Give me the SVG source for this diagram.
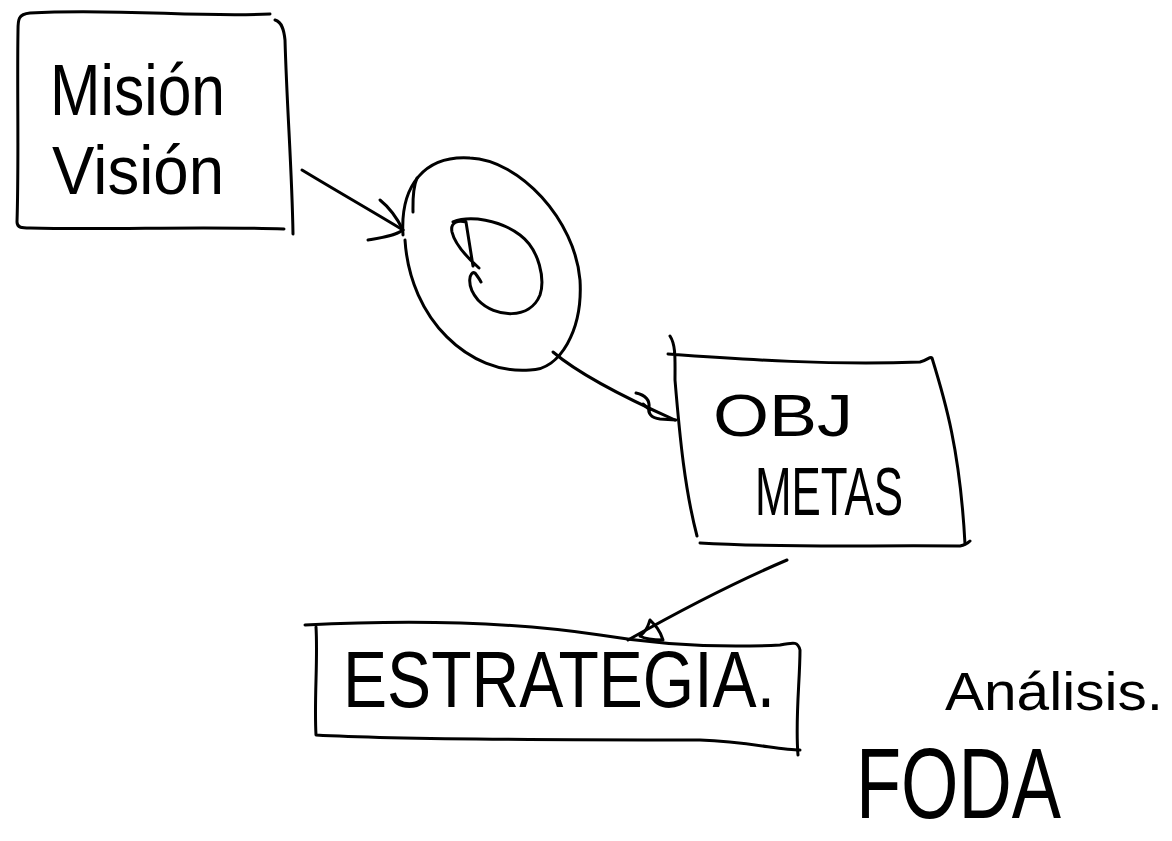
<svg xmlns="http://www.w3.org/2000/svg" width="1172" height="841" viewBox="0 0 1172 841">
<style>
.s{fill:none;stroke:#000;stroke-width:3;stroke-linecap:round;stroke-linejoin:round}
.t{font-family:"Liberation Sans","DejaVu Sans",sans-serif;fill:#000;font-weight:normal}
</style>
<rect width="1172" height="841" fill="#fff"/>
<g id="mision-vision">
<path class="s" d="M270,14 C200,18 120,8 30,13 C18,14 18,20 18,30 C17,90 19,160 17,222 C17,228 22,228 30,228 C110,230 200,226 284,229"/>
<path class="s" d="M275,20 C282,22 284,30 285,40 C287,110 292,170 293,234"/>
<text class="t" x="50" y="115" font-size="72" textLength="175" lengthAdjust="spacingAndGlyphs">Misión</text>
<text class="t" x="52" y="194" font-size="68" textLength="172" lengthAdjust="spacingAndGlyphs">Visión</text>
</g>
<g id="circulo">
<path class="s" d="M403,235 C400,185 425,155 470,158 C520,160 575,220 580,280 C583,330 560,370 530,370 C470,375 410,320 405,240"/>
<path class="s" d="M417,178 C412,190 413,205 413,212"/>
<path class="s" d="M453,222 C470,215 500,220 520,235 C540,250 545,280 540,295 C530,320 495,318 478,300 C465,285 470,270 475,273 C478,277 480,280 481,282 M479,268 C470,260 455,245 452,232 C450,222 458,220 466,222 L473,266"/>
</g>
<g id="obj-metas">
<path class="s" d="M668,354 C750,360 830,365 920,362 C928,360 930,356 932,358 C945,400 960,450 965,544 M670,336 C676,345 675,360 675,380 C680,440 685,490 697,536"/>
<path class="s" d="M700,543 C780,548 870,545 960,546 C966,545 968,543 970,541"/>
<text class="t" x="713" y="436" font-size="60" textLength="140" lengthAdjust="spacingAndGlyphs">OBJ</text>
<text class="t" x="755" y="515" font-size="68" textLength="148" lengthAdjust="spacingAndGlyphs">METAS</text>
</g>
<g id="estrategia">
<path class="s" d="M305,625 C400,620 500,620 600,635 C660,645 720,648 780,645 C795,642 798,642 800,650 C800,680 795,720 798,755"/>
<path class="s" d="M316,627 C318,660 314,700 316,735 C400,740 600,740 700,740 C750,742 780,750 800,750"/>
<text class="t" x="343" y="707" font-size="80" textLength="432" lengthAdjust="spacingAndGlyphs">ESTRATEGIA.</text>
</g>
<g id="analisis-foda">
<text class="t" x="945" y="710" font-size="54" textLength="218" lengthAdjust="spacingAndGlyphs">Análisis.</text>
<text class="t" x="856" y="818" font-size="100" textLength="205" lengthAdjust="spacingAndGlyphs">FODA</text>
</g>
<g id="conectores">
<path class="s" d="M302,170 C335,190 370,210 403,230"/>
<path class="s" d="M380,200 C390,208 398,220 403,230 C395,236 380,238 368,240"/>
<path class="s" d="M553,352 C580,375 630,400 675,420"/>
<path class="s" d="M636,393 C645,395 650,400 649,408 C648,412 650,418 660,419 L676,420 M643,404 L650,410"/>
<path class="s" d="M787,560 C740,580 690,605 628,640"/>
<path class="s" d="M640,636 C648,630 648,625 650,620 C655,625 660,630 663,640 C655,640 645,639 640,636"/>
</g>
</svg>
